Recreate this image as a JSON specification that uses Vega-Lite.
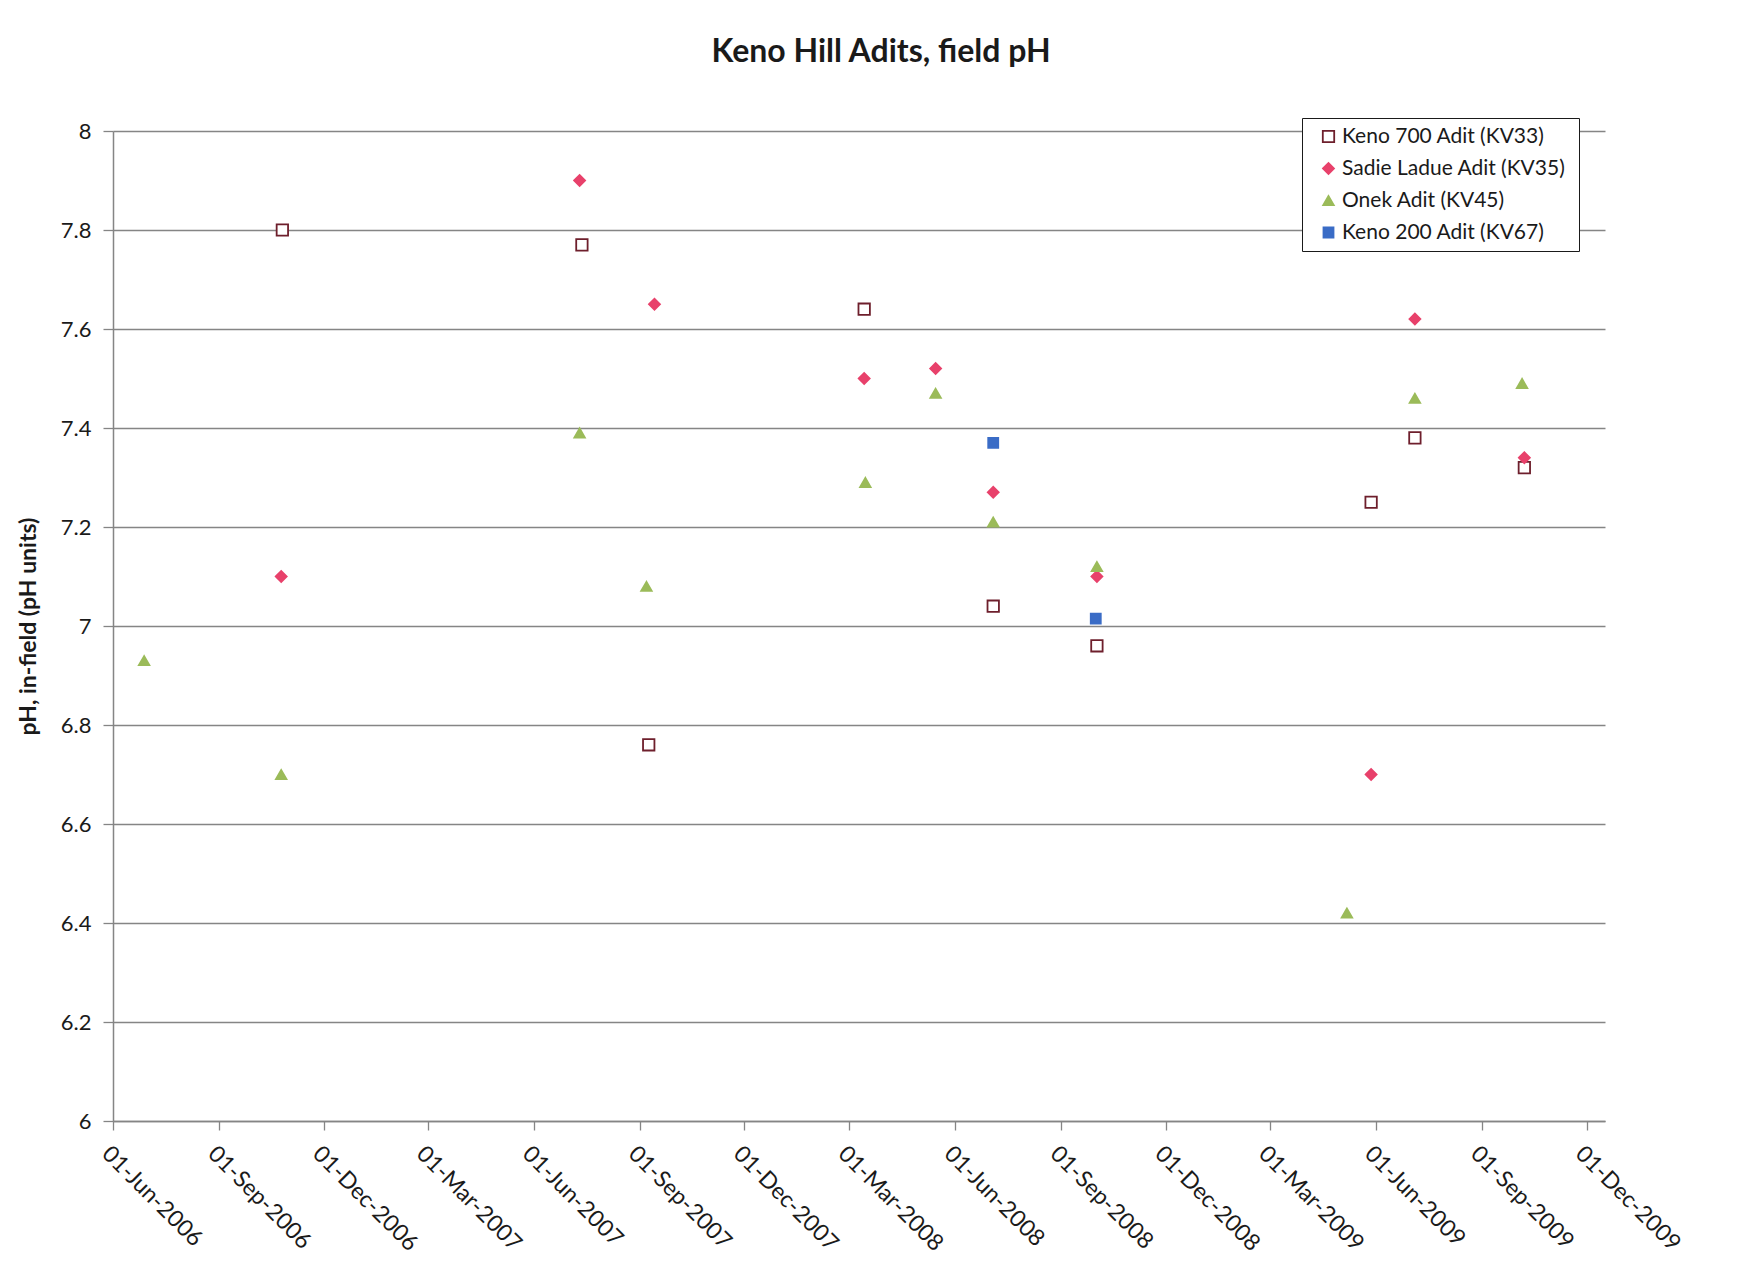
{
  "$schema": "https://vega.github.io/schema/vega-lite/v6.json",
  "width": 1492,
  "height": 990,
  "autosize": "none",
  "padding": {"left": 113, "top": 131, "right": 133, "bottom": 149},
  "background": "white",
  "title": {
    "text": "Keno Hill Adits, field pH",
    "font": "Lato",
    "fontSize": 32,
    "fontWeight": "bold",
    "color": "#1a1a1a",
    "anchor": "middle",
    "dx": 22,
    "offset": 49
  },
  "data": {
    "values": [
      {"series": "Keno 700  Adit (KV33)", "date": "2006-10-26", "pH": 7.80},
      {"series": "Keno 700  Adit (KV33)", "date": "2007-07-13", "pH": 7.77},
      {"series": "Keno 700  Adit (KV33)", "date": "2007-09-09", "pH": 6.76},
      {"series": "Keno 700  Adit (KV33)", "date": "2008-03-14", "pH": 7.64},
      {"series": "Keno 700  Adit (KV33)", "date": "2008-07-04", "pH": 7.04},
      {"series": "Keno 700  Adit (KV33)", "date": "2008-10-02", "pH": 6.96},
      {"series": "Keno 700  Adit (KV33)", "date": "2009-05-28", "pH": 7.25},
      {"series": "Keno 700  Adit (KV33)", "date": "2009-07-05", "pH": 7.38},
      {"series": "Keno 700  Adit (KV33)", "date": "2009-10-08", "pH": 7.32},
      {"series": "Sadie Ladue  Adit (KV35)", "date": "2006-10-25", "pH": 7.10},
      {"series": "Sadie Ladue  Adit (KV35)", "date": "2007-07-11", "pH": 7.90},
      {"series": "Sadie Ladue  Adit (KV35)", "date": "2007-09-14", "pH": 7.65},
      {"series": "Sadie Ladue  Adit (KV35)", "date": "2008-03-14", "pH": 7.50},
      {"series": "Sadie Ladue  Adit (KV35)", "date": "2008-05-15", "pH": 7.52},
      {"series": "Sadie Ladue  Adit (KV35)", "date": "2008-07-04", "pH": 7.27},
      {"series": "Sadie Ladue  Adit (KV35)", "date": "2008-10-02", "pH": 7.10},
      {"series": "Sadie Ladue  Adit (KV35)", "date": "2009-05-28", "pH": 6.70},
      {"series": "Sadie Ladue  Adit (KV35)", "date": "2009-07-05", "pH": 7.62},
      {"series": "Sadie Ladue  Adit (KV35)", "date": "2009-10-08", "pH": 7.34},
      {"series": "Onek Adit (KV45)", "date": "2006-06-28", "pH": 6.93},
      {"series": "Onek Adit (KV45)", "date": "2006-10-25", "pH": 6.70},
      {"series": "Onek Adit (KV45)", "date": "2007-07-11", "pH": 7.39},
      {"series": "Onek Adit (KV45)", "date": "2007-09-07", "pH": 7.08},
      {"series": "Onek Adit (KV45)", "date": "2008-03-15", "pH": 7.29},
      {"series": "Onek Adit (KV45)", "date": "2008-05-15", "pH": 7.47},
      {"series": "Onek Adit (KV45)", "date": "2008-07-04", "pH": 7.21},
      {"series": "Onek Adit (KV45)", "date": "2008-10-02", "pH": 7.12},
      {"series": "Onek Adit (KV45)", "date": "2009-05-07", "pH": 6.42},
      {"series": "Onek Adit (KV45)", "date": "2009-07-05", "pH": 7.46},
      {"series": "Onek Adit (KV45)", "date": "2009-10-06", "pH": 7.49},
      {"series": "Keno 200  Adit (KV67)", "date": "2008-07-04", "pH": 7.37},
      {"series": "Keno 200  Adit (KV67)", "date": "2008-10-01", "pH": 7.015}
    ]
  },
  "mark": {"type": "point", "filled": false, "opacity": 1, "strokeWidth": 1.8},
  "encoding": {
    "x": {
      "field": "date",
      "type": "temporal",
      "scale": {
        "type": "utc",
        "domain": [
          {"year": 2006, "month": 6, "date": 1, "utc": true},
          {"year": 2009, "month": 12, "date": 17, "utc": true}
        ]
      },
      "axis": {
        "title": null,
        "format": "%d-%b-%Y",
        "values": [
          {"year": 2006, "month": 6, "date": 1, "utc": true},
          {"year": 2006, "month": 9, "date": 1, "utc": true},
          {"year": 2006, "month": 12, "date": 1, "utc": true},
          {"year": 2007, "month": 3, "date": 1, "utc": true},
          {"year": 2007, "month": 6, "date": 1, "utc": true},
          {"year": 2007, "month": 9, "date": 1, "utc": true},
          {"year": 2007, "month": 12, "date": 1, "utc": true},
          {"year": 2008, "month": 3, "date": 1, "utc": true},
          {"year": 2008, "month": 6, "date": 1, "utc": true},
          {"year": 2008, "month": 9, "date": 1, "utc": true},
          {"year": 2008, "month": 12, "date": 1, "utc": true},
          {"year": 2009, "month": 3, "date": 1, "utc": true},
          {"year": 2009, "month": 6, "date": 1, "utc": true},
          {"year": 2009, "month": 9, "date": 1, "utc": true},
          {"year": 2009, "month": 12, "date": 1, "utc": true}
        ],
        "labelAngle": 45,
        "labelAlign": "left",
        "labelBaseline": "top",
        "labelFont": "Lato",
        "labelFontSize": 23,
        "labelColor": "#1a1a1a",
        "labelPadding": 12,
        "labelOverlap": false,
        "labelBound": false,
        "tickSize": 9,
        "tickColor": "#858585",
        "tickWidth": 1.3,
        "domainColor": "#858585",
        "domainWidth": 1.5,
        "grid": false
      }
    },
    "y": {
      "field": "pH",
      "type": "quantitative",
      "scale": {"domain": [6, 8], "zero": false, "nice": false},
      "axis": {
        "title": "pH, in-field (pH units)",
        "titleFont": "Lato",
        "titleFontSize": 23,
        "titleFontWeight": "bold",
        "titleColor": "#1a1a1a",
        "titlePadding": 20,
        "values": [6, 6.2, 6.4, 6.6, 6.8, 7, 7.2, 7.4, 7.6, 7.8, 8],
        "format": "~g",
        "labelFont": "Lato",
        "labelFontSize": 22,
        "labelColor": "#1a1a1a",
        "labelPadding": 12,
        "tickSize": 10,
        "tickColor": "#858585",
        "tickWidth": 1.3,
        "domainColor": "#858585",
        "domainWidth": 1.5,
        "grid": true,
        "gridColor": "#858585",
        "gridWidth": 1.3
      }
    },
    "shape": {
      "field": "series",
      "type": "nominal",
      "title": null,
      "scale": {
        "domain": ["Keno 700  Adit (KV33)", "Sadie Ladue  Adit (KV35)", "Onek Adit (KV45)", "Keno 200  Adit (KV67)"],
        "range": ["square", "diamond", "triangle-up", "square"]
      }
    },
    "fill": {
      "field": "series",
      "type": "nominal",
      "title": null,
      "scale": {
        "domain": ["Keno 700  Adit (KV33)", "Sadie Ladue  Adit (KV35)", "Onek Adit (KV45)", "Keno 200  Adit (KV67)"],
        "range": ["#ffffff", "#e8416b", "#9bbb59", "#3a6cc6"]
      }
    },
    "stroke": {
      "field": "series",
      "type": "nominal",
      "title": null,
      "scale": {
        "domain": ["Keno 700  Adit (KV33)", "Sadie Ladue  Adit (KV35)", "Onek Adit (KV45)", "Keno 200  Adit (KV67)"],
        "range": ["#6e1f2c", "#e8416b", "#9bbb59", "#3a6cc6"]
      }
    },
    "size": {
      "field": "series",
      "type": "nominal",
      "title": null,
      "scale": {
        "domain": ["Keno 700  Adit (KV33)", "Sadie Ladue  Adit (KV35)", "Onek Adit (KV45)", "Keno 200  Adit (KV67)"],
        "range": [130, 100, 95, 30]
      }
    }
  },
  "config": {
    "view": {"stroke": null},
    "legend": {
      "orient": "none",
      "legendX": 1189,
      "legendY": -13,
      "strokeColor": "#1a1a1a",
      "fillColor": "white",
      "padding": 8,
      "labelFont": "Lato",
      "labelFontSize": 21,
      "labelColor": "#1a1a1a",
      "labelLimit": 400,
      "rowPadding": 10,
      "symbolOffset": 8,
      "labelOffset": 3,
      "symbolStrokeWidth": 1.8
    }
  }
}
